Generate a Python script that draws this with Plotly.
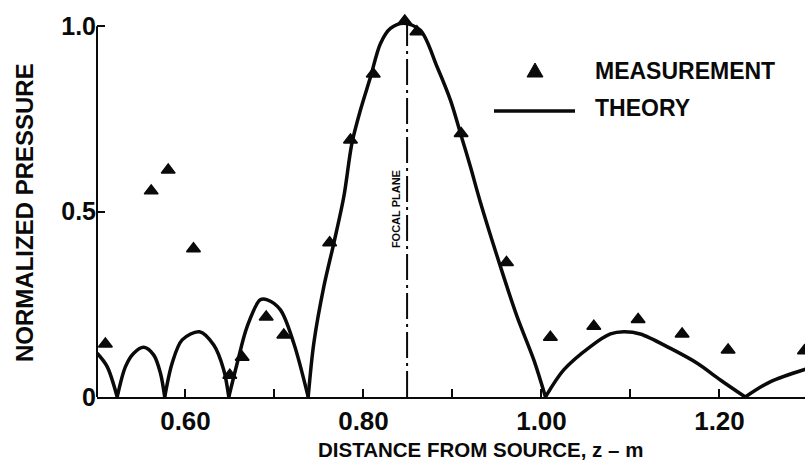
import plotly.graph_objects as go

# Measured normalized pressure along the axis (z in metres)
meas_z = [0.510, 0.5615, 0.5806, 0.609, 0.6498, 0.6637, 0.6907, 0.7105, 0.762, 0.7854,
          0.811, 0.8464, 0.860, 0.9097, 0.9607, 1.010, 1.0588, 1.1086, 1.158, 1.2097, 1.2955]
meas_p = [0.143, 0.556, 0.612, 0.400, 0.059, 0.107, 0.216, 0.167, 0.416, 0.693,
          0.871, 1.014, 0.985, 0.711, 0.363, 0.161, 0.191, 0.209, 0.170, 0.127, 0.125]

# Theoretical pressure curve (lobes separated by nulls)
theory_z = [0.5008, 0.512, 0.5233, 0.5326, 0.5419, 0.5532, 0.5644, 0.5719, 0.5767, 0.585,
            0.5963, 0.6157, 0.6318, 0.643, 0.6487, 0.6581, 0.6693, 0.684, 0.692, 0.7067,
            0.7217, 0.7379, 0.7442, 0.7554, 0.7666, 0.7779, 0.787, 0.7966, 0.8079, 0.819,
            0.8303, 0.8454, 0.864, 0.8828, 0.8978, 0.909, 0.9202, 0.9307, 0.954, 0.9727,
            0.9914, 1.0045, 1.025, 1.055, 1.0775, 1.0925, 1.111, 1.145, 1.175, 1.201,
            1.229, 1.257, 1.2966]
theory_p = [0.118, 0.082, 0.0, 0.082, 0.118, 0.134, 0.113, 0.064, 0.0, 0.091,
            0.154, 0.176, 0.140, 0.073, 0.0, 0.091, 0.190, 0.262, 0.262, 0.235,
            0.145, 0.0, 0.145, 0.297, 0.414, 0.540, 0.684, 0.774, 0.863, 0.953,
            0.994, 1.008, 0.989, 0.890, 0.800, 0.711, 0.621, 0.531, 0.351, 0.216,
            0.100, 0.0, 0.073, 0.136, 0.170, 0.176, 0.170, 0.131, 0.091, 0.046,
            0.0, 0.041, 0.075]

focal_plane_z = 0.849

x_tickvals = [0.60, 0.70, 0.80, 0.90, 1.00, 1.10, 1.20]
x_ticktext = ["0.60", "", "0.80", "", "1.00", "", "1.20"]
y_tickvals = [0, 0.5, 1.0]
y_ticktext = ["0", "0.5", "1.0"]

FONT = "Liberation Sans"
BLACK = "#0a0a0a"

fig = go.Figure()

# split the theory curve into lobes at its nulls so each arch is smoothed on its own
segments = []
cur_z, cur_p = [], []
for z, p in zip(theory_z, theory_p):
    cur_z.append(z)
    cur_p.append(p)
    if p == 0 and len(cur_z) > 1:
        segments.append((cur_z, cur_p))
        cur_z, cur_p = [z], [p]
if len(cur_z) > 1:
    segments.append((cur_z, cur_p))

for seg_z, seg_p in segments:
    fig.add_trace(go.Scatter(
        x=seg_z, y=seg_p, mode="lines",
        line=dict(color=BLACK, width=3.5, shape="spline", smoothing=0.9),
        showlegend=False, hoverinfo="skip"))

fig.add_trace(go.Scatter(
    x=meas_z, y=meas_p, mode="markers",
    marker=dict(symbol="triangle-up", size=12, color=BLACK,
                line=dict(color=BLACK, width=1.5)),
    showlegend=False, cliponaxis=False))

# focal plane marker line
fig.add_shape(type="line", xref="x", yref="y",
              x0=focal_plane_z, x1=focal_plane_z, y0=0, y1=1.03,
              line=dict(color=BLACK, width=2, dash="26px,5px,3px,5px"))
fig.add_annotation(x=focal_plane_z, y=0.507, xref="x", yref="y",
                   text="FOCAL PLANE", textangle=-90, showarrow=False,
                   xshift=-11, font=dict(family=FONT, size=11, color=BLACK, weight="bold"))

# left axis line only reaches 1.0
fig.add_shape(type="line", xref="paper", yref="y", x0=0, x1=0, y0=0, y1=1.0,
              line=dict(color=BLACK, width=2))

# legend
L = 97.0
T = 397.0
W = 708.0
H = 393.0
def px(xp):
    return (xp - L) / W
def py(yp):
    return (T - yp) / H

tri_cx, tri_cy, tri_w, tri_h = 535, 70, 16, 14
fig.add_shape(type="path", xref="paper", yref="paper",
              path=(f"M {px(tri_cx - tri_w/2)} {py(tri_cy + tri_h/2)} "
                    f"L {px(tri_cx + tri_w/2)} {py(tri_cy + tri_h/2)} "
                    f"L {px(tri_cx)} {py(tri_cy - tri_h/2)} Z"),
              fillcolor=BLACK, line=dict(color=BLACK, width=1))
fig.add_shape(type="line", xref="paper", yref="paper",
              x0=px(494), x1=px(575), y0=py(111), y1=py(111),
              line=dict(color=BLACK, width=3.5))
fig.add_annotation(x=px(593), y=py(71), xref="paper", yref="paper",
                   text="MEASUREMENT", showarrow=False, xanchor="left", yanchor="middle",
                   font=dict(family=FONT, size=23, color=BLACK, weight="bold"))
fig.add_annotation(x=px(593), y=py(108), xref="paper", yref="paper",
                   text="THEORY", showarrow=False, xanchor="left", yanchor="middle",
                   font=dict(family=FONT, size=23, color=BLACK, weight="bold"))

# axis titles
fig.add_annotation(x=px(480), y=py(449), xref="paper", yref="paper",
                   text="DISTANCE FROM SOURCE, z \u2013 m", showarrow=False,
                   xanchor="center", yanchor="middle",
                   font=dict(family=FONT, size=20.5, color=BLACK, weight="bold"))
fig.add_annotation(x=px(24), y=py(213), xref="paper", yref="paper",
                   text="NORMALIZED PRESSURE", showarrow=False, textangle=-90,
                   xanchor="center", yanchor="middle",
                   font=dict(family=FONT, size=24, color=BLACK, weight="bold"))

fig.update_layout(
    width=805, height=473,
    margin=dict(l=97, r=0, t=4, b=76),
    paper_bgcolor="white", plot_bgcolor="white",
    showlegend=False,
    xaxis=dict(range=[0.5006, 0.5006 + 708 / 890], tickvals=x_tickvals, ticktext=x_ticktext,
               ticks="inside", ticklen=8, tickwidth=2, tickcolor=BLACK,
               showline=True, linecolor=BLACK, linewidth=2,
               showgrid=False, zeroline=False,
               tickfont=dict(family=FONT, size=26, color=BLACK, weight="bold")),
    yaxis=dict(range=[0, 1.06], tickvals=y_tickvals, ticktext=y_ticktext,
               ticks="inside", ticklen=8, tickwidth=2, tickcolor=BLACK,
               showline=False, showgrid=False, zeroline=False,
               tickfont=dict(family=FONT, size=25, color=BLACK, weight="bold")),
)

fig.write_html("out.html")
